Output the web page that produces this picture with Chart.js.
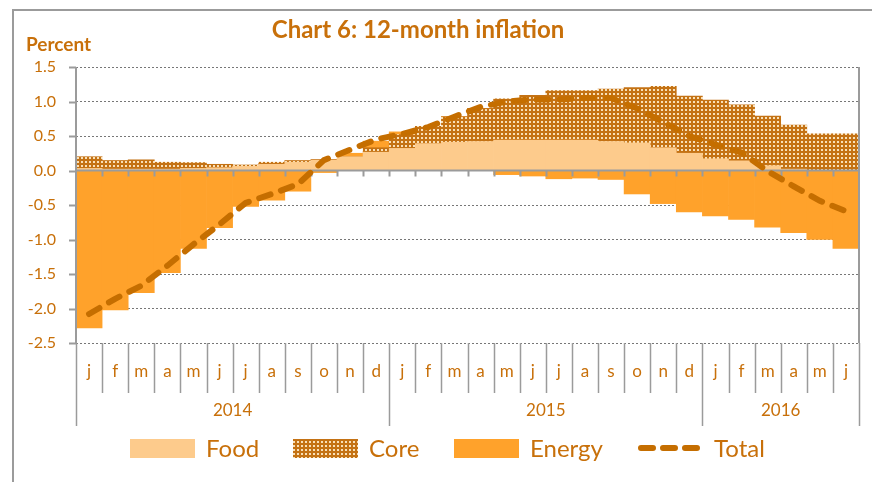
<!DOCTYPE html>
<html>
<head>
<meta charset="utf-8">
<script src="https://cdn.jsdelivr.net/npm/chart.js@4"></script>
<style>
html, body { margin: 0; padding: 0; background: #fff; }
#wrap { position: relative; width: 872px; height: 482px; overflow: hidden; }
#frame { position: absolute; left: 12px; top: 9px; right: -5px; bottom: -5px; border-top: 2px solid #9b9b9b; border-left: 2px solid #9b9b9b; }
canvas { position: absolute; left: 0; top: 0; }
</style>
</head>
<body>
<div id="wrap"><div id="frame"></div><canvas id="chart" width="872" height="482"></canvas></div>
<script>
const months = ['j','f','m','a','m','j','j','a','s','o','n','d',
                'j','f','m','a','m','j','j','a','s','o','n','d',
                'j','f','m','a','m','j'];
const years = ['2014', '2015', '2016'];
const monthsPerYear = [12, 12, 6];

const food   = [0.03, 0.02, 0.02, 0.02, 0.03, 0.04, 0.06, 0.09, 0.12, 0.15, 0.20, 0.265,
                0.32, 0.39, 0.41, 0.42, 0.44, 0.44, 0.44, 0.44, 0.42, 0.40, 0.33, 0.25,
                0.17, 0.14, 0.07, 0.02, 0.0, 0.0];
const core   = [0.17, 0.125, 0.135, 0.10, 0.085, 0.05, 0.02, 0.03, 0.025, 0.01, 0.0, 0.065,
                0.20, 0.25, 0.37, 0.48, 0.60, 0.65, 0.72, 0.72, 0.76, 0.80, 0.89, 0.83,
                0.85, 0.81, 0.72, 0.64, 0.53, 0.53];
const energy = [-2.28, -2.02, -1.77, -1.48, -1.13, -0.83, -0.52, -0.43, -0.30, -0.03, 0.05, 0.095,
                0.04, 0.0, 0.0, 0.0, -0.06, -0.08, -0.12, -0.11, -0.13, -0.34, -0.48, -0.60,
                -0.66, -0.71, -0.82, -0.90, -1.00, -1.13];
const total  = [-2.08, -1.86, -1.67, -1.38, -1.07, -0.78, -0.47, -0.34, -0.20, 0.15, 0.30, 0.45,
                0.53, 0.63, 0.78, 0.92, 1.00, 1.03, 1.03, 1.05, 1.05, 0.90, 0.70, 0.50,
                0.375, 0.26, -0.01, -0.23, -0.44, -0.59];

const textColor = '#c8700a';
const axisGray = '#9b9b9b';
const fontName = 'Lato, "Open Sans", sans-serif';

// dotted brown fill for the core bars
function makeCorePattern() {
    const p = document.createElement('canvas');
    p.width = 4;
    p.height = 4;
    const c = p.getContext('2d');
    c.fillStyle = '#c47214';
    c.fillRect(0, 0, 4, 4);
    c.fillStyle = '#f9e0b8';
    c.fillRect(1, 1, 2, 2);
    return c.createPattern(p, 'repeat');
}

const ctx = document.getElementById('chart').getContext('2d');
const corePattern = makeCorePattern();

const decor = {
    id: 'decor',
    afterDatasetDraw(chart, args) {
        // zero line sits over the bars but under the total line
        if (args.index !== 0) return;
        const { ctx, chartArea, scales } = chart;
        const y0 = scales.y.getPixelForValue(0);
        const w = (chartArea.right - chartArea.left) / months.length;
        ctx.save();
        ctx.strokeStyle = axisGray;
        ctx.lineWidth = 2;
        ctx.beginPath();
        ctx.moveTo(chartArea.left, y0);
        ctx.lineTo(chartArea.right, y0);
        for (let b = 1; b < months.length; b++) {
            const px = Math.round(chartArea.left + b * w) + 0.5;
            ctx.moveTo(px, y0);
            ctx.lineTo(px, y0 + 6);
        }
        ctx.stroke();
        ctx.restore();
    },
    afterDraw(chart) {
        const { ctx, chartArea, scales } = chart;
        const left = chartArea.left, right = chartArea.right;
        const top = chartArea.top, bottom = chartArea.bottom;
        const w = (right - left) / months.length;
        ctx.save();

        // side axes
        ctx.strokeStyle = axisGray;
        ctx.lineWidth = 2;
        ctx.beginPath();
        ctx.moveTo(left, top);
        ctx.lineTo(left, bottom);
        ctx.moveTo(right, top);
        ctx.lineTo(right, bottom);
        scales.y.ticks.forEach(t => {
            const py = Math.round(scales.y.getPixelForValue(t.value)) + 0.5;
            ctx.moveTo(left - 7, py);
            ctx.lineTo(left, py);
        });
        ctx.stroke();

        // month and year separators under the plot
        const yearEdges = [0];
        monthsPerYear.forEach(n => yearEdges.push(yearEdges[yearEdges.length - 1] + n));
        ctx.lineWidth = 1.5;
        ctx.beginPath();
        for (let b = 0; b <= months.length; b++) {
            const px = Math.round(left + b * w) + 0.5;
            ctx.moveTo(px, bottom);
            ctx.lineTo(px, yearEdges.includes(b) ? 426 : 393);
        }
        ctx.stroke();

        ctx.fillStyle = textColor;
        ctx.textAlign = 'center';
        ctx.textBaseline = 'middle';
        ctx.font = '17px ' + fontName;
        years.forEach((yr, i) => {
            const cx = left + (yearEdges[i] + yearEdges[i + 1]) / 2 * w;
            ctx.fillText(yr, cx, 411);
        });

        // title and unit
        ctx.font = 'bold 24px ' + fontName;
        ctx.fillText('Chart 6: 12-month inflation', 418, 30);
        ctx.textAlign = 'left';
        ctx.font = 'bold 19px ' + fontName;
        ctx.fillText('Percent', 26, 45);

        // legend
        const ds = chart.data.datasets;
        const legendX = [130, 293, 454, 638];
        ctx.font = '24px ' + fontName;
        ds.forEach((d, i) => {
            const x = legendX[i];
            if (d.type === 'line') {
                ctx.save();
                ctx.strokeStyle = d.borderColor;
                ctx.lineWidth = 6;
                ctx.lineCap = 'round';
                ctx.setLineDash([12, 10]);
                ctx.beginPath();
                ctx.moveTo(x + 3, 448);
                ctx.lineTo(x + 62, 448);
                ctx.stroke();
                ctx.restore();
                ctx.fillText(d.label, x + 76, 449);
            } else {
                ctx.fillStyle = d.backgroundColor;
                ctx.fillRect(x, 439, 65, 19);
                ctx.fillStyle = textColor;
                ctx.fillText(d.label, x + 76, 449);
            }
        });
        ctx.restore();
    }
};

new Chart(ctx, {
    type: 'bar',
    data: {
        labels: months,
        datasets: [
            { label: 'Food', data: food, backgroundColor: '#fdcb8c', stack: 'parts', order: 1 },
            { label: 'Core', data: core, backgroundColor: corePattern, stack: 'parts', order: 1 },
            { label: 'Energy', data: energy, backgroundColor: '#ffa22b', stack: 'parts', order: 1 },
            {
                type: 'line', label: 'Total', data: total, stack: 'total', order: 0,
                borderColor: '#c56e00', borderWidth: 6, borderDash: [12, 11],
                borderCapStyle: 'round', pointRadius: 0, fill: false, tension: 0
            }
        ]
    },
    options: {
        responsive: false,
        animation: false,
        layout: { padding: { left: 0, right: 13, top: 67, bottom: 0 } },
        datasets: { bar: { barPercentage: 1, categoryPercentage: 1, borderWidth: 0 } },
        plugins: { legend: { display: false }, title: { display: false }, tooltip: { enabled: false } },
        scales: {
            x: {
                stacked: true,
                grid: { display: false },
                border: { display: false },
                ticks: { color: textColor, font: { family: fontName, size: 17 }, padding: 10, maxRotation: 0, autoSkip: false },
                afterFit: s => { s.height = 139; }
            },
            y: {
                stacked: true,
                min: -2.5,
                max: 1.5,
                grid: { color: '#777', lineWidth: 1, drawTicks: false },
                border: { display: false, dash: [2, 2] },
                ticks: {
                    stepSize: 0.5,
                    color: textColor,
                    padding: 20,
                    font: { family: fontName, size: 16 },
                    callback: v => v.toFixed(1)
                },
                afterFit: s => { s.width = 76; }
            }
        }
    },
    plugins: [decor]
});
</script>
</body>
</html>
